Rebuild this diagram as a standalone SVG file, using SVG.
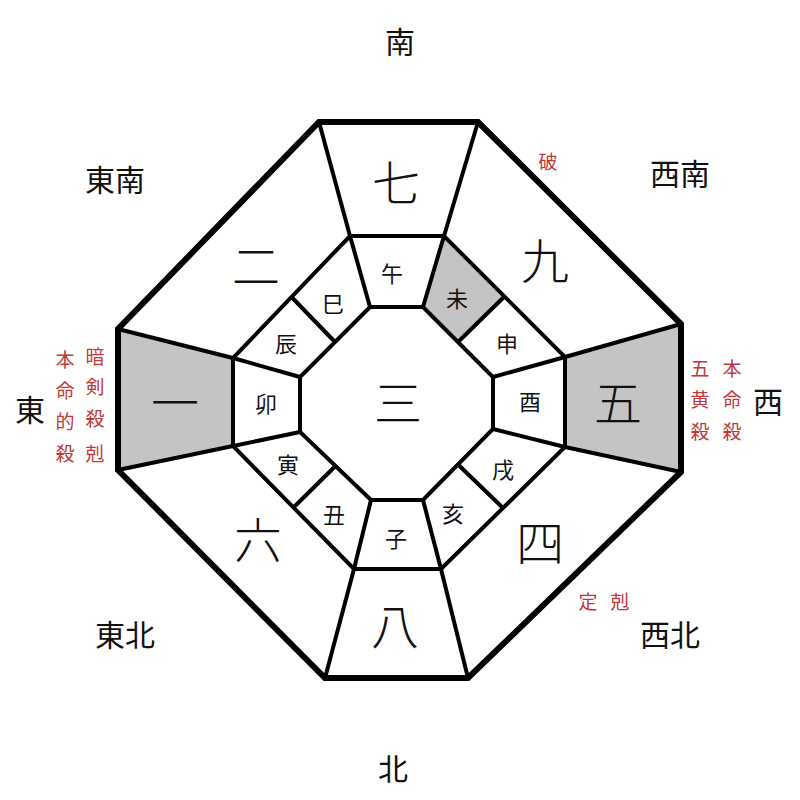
<svg xmlns="http://www.w3.org/2000/svg" width="800" height="800" viewBox="0 0 800 800">
<style>
text{font-family:"Noto Sans CJK JP","Noto Sans CJK SC",serif;text-anchor:middle;dominant-baseline:central;fill:#111}
.d{font-size:30px}.n{font-size:48px;font-weight:300}.b{font-size:22px}.r{font-size:19px;fill:#c03838}
.l{stroke:#000;stroke-width:4;fill:none;stroke-linejoin:miter}
</style>
<rect width="800" height="800" fill="#fff"/>
<g id="fills" fill="#c4c4c4">
<polygon points="118,329 233,358 233,445 118,470"/>
<polygon points="681,324 565,357 565,447 681,472"/>
<polygon points="444,236 504.5,296.5 458,342 423,307"/>
</g>
<g id="connectors">
<polygon class="l" points="350,236 444,236 565,357 565,447 441,569 354,569 233,446 233,358"/>
<polygon class="l" points="370,307 423,307 493,377 493,429 423,500 371,500 300,432 300,377"/>
<path class="l" d="M319,122L350,236M478,122L444,236M681,324L565,357M681,472L565,447M468,678L441,569M325,678L354,569M118,470L233,446M118,329L233,358
M350,236L370,307M444,236L423,307M565,357L493,377M565,447L493,429M441,569L423,500M354,569L371,500M233,446L300,432M233,358L300,377
M291.5,297L335,342M504.5,296.5L458,342M503,508L458,464.5M293.5,507.5L335.5,466"/>
<polygon class="l" style="stroke-width:6" points="319,122 478,122 681,324 681,472 468,678 325,678 118,470 118,329"/>
</g>
<g id="directions">
<text class="d" x="400" y="40">南</text><text class="d" x="115" y="178">東南</text><text class="d" x="680" y="172">西南</text>
<text class="d" x="30" y="408">東</text><text class="d" x="768" y="400">西</text>
<text class="d" x="125" y="633">東北</text><text class="d" x="670" y="633">西北</text><text class="d" x="393" y="767">北</text>
</g>
<g id="numbers">
<text class="n" x="396" y="180">七</text><text class="n" x="545" y="258">九</text><text class="n" x="256" y="263">二</text>
<text class="n" x="175" y="400">一</text><text class="n" x="618" y="400">五</text><text class="n" x="398" y="400">三</text>
<text class="n" x="258" y="537">六</text><text class="n" x="540" y="540">四</text><text class="n" x="395" y="623">八</text>
</g>
<g id="branches">
<text class="b" x="392" y="272">午</text><text class="b" x="457" y="297">未</text><text class="b" x="333" y="302">巳</text>
<text class="b" x="507" y="342">申</text><text class="b" x="286" y="342">辰</text><text class="b" x="530" y="400">酉</text>
<text class="b" x="266" y="402">卯</text><text class="b" x="503" y="468">戌</text><text class="b" x="288" y="463">寅</text>
<text class="b" x="453" y="512">亥</text><text class="b" x="334" y="513">丑</text><text class="b" x="396" y="537">子</text>
</g>
<g id="notes">
<text class="r" x="548" y="160">破</text>
<text class="r" x="65" y="358">本</text><text class="r" x="65" y="389">命</text><text class="r" x="65" y="420">的</text><text class="r" x="65" y="452">殺</text>
<text class="r" x="95" y="355">暗</text><text class="r" x="95" y="385">剣</text><text class="r" x="95" y="417">殺</text><text class="r" x="95" y="452">剋</text>
<text class="r" x="700" y="367">五</text><text class="r" x="700" y="398">黄</text><text class="r" x="700" y="430">殺</text>
<text class="r" x="732" y="367">本</text><text class="r" x="732" y="398">命</text><text class="r" x="732" y="430">殺</text>
<text class="r" x="588" y="600">定</text><text class="r" x="620" y="600">剋</text>
</g>
</svg>
